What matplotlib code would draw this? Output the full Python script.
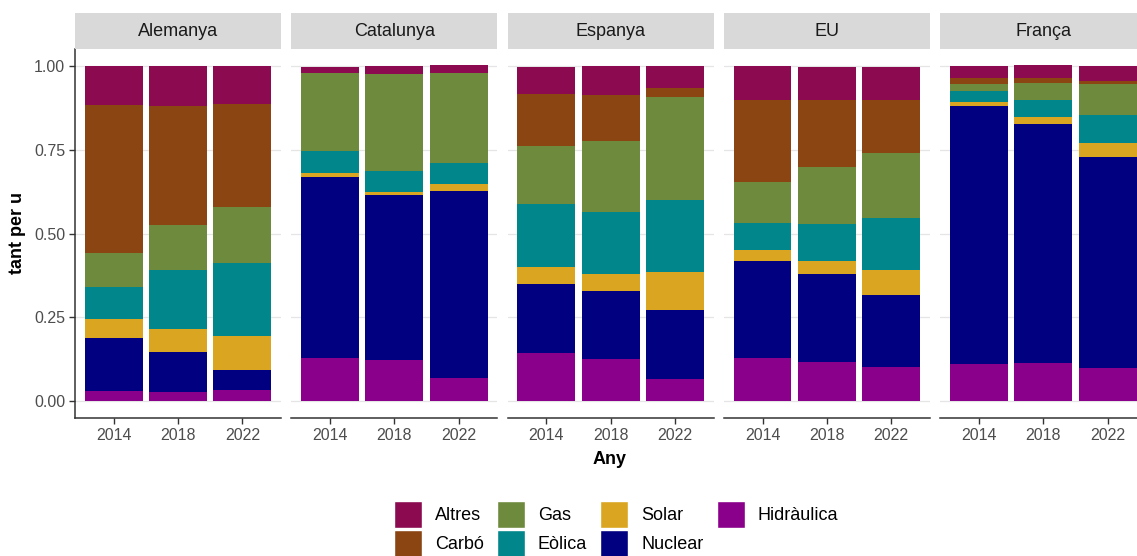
import numpy as np
import matplotlib
matplotlib.use("Agg")
import matplotlib.pyplot as plt
from matplotlib.patches import Patch

plt.rcParams["font.family"] = ["Liberation Sans", "DejaVu Sans"]

regions = ["Alemanya", "Catalunya", "Espanya", "EU", "França"]
years = ["2014", "2018", "2022"]

# shares per region (Alemanya, Catalunya, Espanya, EU, França) x year (2014, 2018, 2022)
hidraulica = [0.030, 0.027, 0.032, 0.128, 0.122, 0.068, 0.143, 0.125, 0.066,
              0.128, 0.116, 0.101, 0.110, 0.113, 0.098]
nuclear = [0.159, 0.119, 0.062, 0.539, 0.494, 0.560, 0.205, 0.205, 0.205,
           0.289, 0.262, 0.217, 0.771, 0.714, 0.631]
solar = [0.057, 0.068, 0.101, 0.012, 0.009, 0.021, 0.051, 0.048, 0.113,
         0.033, 0.039, 0.074, 0.012, 0.021, 0.042]
eolica = [0.094, 0.176, 0.217, 0.068, 0.062, 0.060, 0.190, 0.187, 0.217,
          0.080, 0.110, 0.153, 0.033, 0.051, 0.083]
gas = [0.102, 0.134, 0.167, 0.232, 0.289, 0.268, 0.173, 0.211, 0.307,
       0.125, 0.170, 0.195, 0.021, 0.051, 0.092]
carbo = [0.440, 0.357, 0.308, 0.0, 0.0, 0.0, 0.155, 0.137, 0.027,
         0.244, 0.202, 0.158, 0.018, 0.015, 0.009]
altres = [0.116, 0.119, 0.112, 0.018, 0.024, 0.024, 0.080, 0.086, 0.065,
          0.101, 0.098, 0.098, 0.033, 0.036, 0.045]

# bottom -> top
series = [
    ("Hidràulica", hidraulica, "#8B008B"),
    ("Nuclear", nuclear, "#000080"),
    ("Solar", solar, "#DAA520"),
    ("Eòlica", eolica, "#00868B"),
    ("Gas", gas, "#6E8B3D"),
    ("Carbó", carbo, "#8B4513"),
    ("Altres", altres, "#8B0A50"),
]

W, H = 1137, 556
fig = plt.figure(figsize=(W / 100, H / 100), dpi=100)

axis_col = "#333333"
text_col = "#4D4D4D"
x = np.arange(1, len(years) + 1)

for i, reg in enumerate(regions):
    left = 75 + i * 216.3
    width = 206
    ax = fig.add_axes([left / W, 1 - 418 / H, width / W, (418 - 49) / H])
    strip = fig.add_axes([left / W, 1 - 49 / H, width / W, 36 / H])
    strip.set_facecolor("#D9D9D9")
    strip.set_xticks([])
    strip.set_yticks([])
    for s in strip.spines.values():
        s.set_visible(False)
    strip.text(0.5, 0.5, reg, ha="center", va="center", fontsize=13, color="#1A1A1A")

    bottom = np.zeros(len(years))
    for name, vals, col in series:
        v = np.array(vals[i * 3:(i + 1) * 3])
        ax.bar(x, v, width=0.9, bottom=bottom, color=col, zorder=2)
        bottom += v

    ax.set_xlim(0.4, 3.6)
    ax.set_ylim(-0.05, 1.05)
    ax.set_yticks([0, 0.25, 0.5, 0.75, 1.0])
    ax.yaxis.grid(True, color="#E5E5E5", lw=0.9, zorder=0)
    ax.set_axisbelow(True)
    ax.set_xticks(x)
    ax.set_xticklabels(years)
    ax.tick_params(axis="x", colors=axis_col, labelcolor=text_col, labelsize=11.5,
                   length=4, width=1.0, pad=3)
    for s in ["top", "right"]:
        ax.spines[s].set_visible(False)
    ax.spines["bottom"].set_color(axis_col)
    ax.spines["bottom"].set_linewidth(1.1)
    if i == 0:
        ax.spines["left"].set_color(axis_col)
        ax.spines["left"].set_linewidth(1.1)
        ax.set_yticklabels(["0.00", "0.25", "0.50", "0.75", "1.00"])
        ax.tick_params(axis="y", colors=axis_col, labelcolor=text_col, labelsize=11.5,
                       length=4, width=1.0, pad=3)
    else:
        ax.spines["left"].set_visible(False)
        ax.tick_params(axis="y", length=0, labelleft=False)

fig.text(610 / W, 1 - 459 / H, "Any", ha="center", va="center",
         fontsize=13, fontweight="bold", color="black")
fig.text(18 / W, 1 - 233 / H, "tant per u", ha="center", va="center",
         rotation=90, fontsize=13, fontweight="bold", color="black")

handles = [Patch(facecolor=c, edgecolor="white", label=n)
           for n, _, c in [series[6], series[5], series[4], series[3],
                           series[2], series[1], series[0]]]
fig.legend(handles=handles, ncol=4, loc="upper center",
           bbox_to_anchor=(616 / W, 1 - 501 / H), frameon=False,
           fontsize=13, handlelength=1.55, handleheight=1.92,
           handletextpad=0.7, columnspacing=0.75, labelspacing=0.12,
           borderpad=0, borderaxespad=0)

fig.savefig("out.png", dpi=100)
